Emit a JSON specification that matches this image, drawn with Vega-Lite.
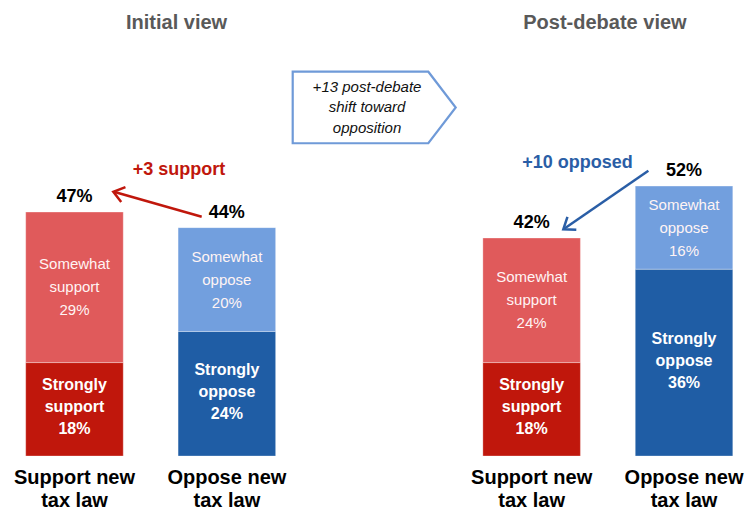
{
  "$schema": "https://vega.github.io/schema/vega-lite/v6.json",
  "width": 747,
  "height": 456,
  "autosize": {"type": "none"},
  "padding": {"left": 0, "top": 0, "right": 0, "bottom": 54},
  "background": "white",
  "config": {"view": {"stroke": null}, "font": "Liberation Sans"},
  "datasets": {
    "bars": [
      {"bar": "Initial|Support new|tax law", "seg": "Strongly support", "value": 18},
      {"bar": "Initial|Support new|tax law", "seg": "Somewhat support", "value": 29},
      {"bar": "Initial|Oppose new|tax law", "seg": "Strongly oppose", "value": 24},
      {"bar": "Initial|Oppose new|tax law", "seg": "Somewhat oppose", "value": 20},
      {"bar": "Post-debate|Support new|tax law", "seg": "Strongly support", "value": 18},
      {"bar": "Post-debate|Support new|tax law", "seg": "Somewhat support", "value": 24},
      {"bar": "Post-debate|Oppose new|tax law", "seg": "Strongly oppose", "value": 36},
      {"bar": "Post-debate|Oppose new|tax law", "seg": "Somewhat oppose", "value": 16}
    ]
  },
  "layer": [
    {
      "data": {"name": "bars"},
      "transform": [
        {"stack": "value", "groupby": ["bar"], "sort": [{"field": "seg", "order": "descending"}], "as": ["v0", "v1"]},
        {"calculate": "(datum.v0 + datum.v1) / 2", "as": "mid"},
        {"calculate": "replace(datum.seg, ' ', '|') + '|' + datum.value + '%'", "as": "lbl"}
      ],
      "encoding": {
        "x": {
          "field": "bar",
          "type": "nominal",
          "title": null,
          "scale": {
            "domain": ["Initial|Support new|tax law", "Initial|Oppose new|tax law", "gap", "Post-debate|Support new|tax law", "Post-debate|Oppose new|tax law"],
            "paddingInner": 0.36,
            "paddingOuter": 0.131,
            "align": 0.644
          },
          "axis": {
            "orient": "bottom",
            "ticks": false,
            "domain": false,
            "grid": false,
            "labelAngle": 0,
            "labelAlign": "center",
            "labelBaseline": "top",
            "labelPadding": 11,
            "labelFont": "Liberation Sans",
            "labelFontSize": 20,
            "labelFontWeight": "bold",
            "labelColor": "#000000",
            "labelLineHeight": 23.5,
            "labelLimit": 300,
            "labelExpr": "datum.value === 'gap' ? '' : slice(split(datum.value, '|'), 1)"
          }
        }
      },
      "layer": [
        {
          "mark": {"type": "bar", "stroke": "#ffffff", "strokeOpacity": 0.3, "strokeWidth": 1},
          "encoding": {
            "y": {"field": "v1", "type": "quantitative", "scale": {"domain": [0, 87.86], "nice": false}, "axis": null},
            "y2": {"field": "v0"},
            "color": {
              "field": "seg",
              "type": "nominal",
              "legend": null,
              "scale": {
                "domain": ["Strongly support", "Somewhat support", "Strongly oppose", "Somewhat oppose"],
                "range": ["#C0170C", "#E05A5B", "#1F5DA5", "#729FDE"]
              }
            }
          }
        },
        {
          "transform": [{"filter": "indexof(datum.seg, 'Somewhat') === 0"}],
          "mark": {"type": "text", "font": "Liberation Sans", "fontSize": 15, "color": "#fff4f4", "baseline": "middle", "lineBreak": "|", "lineHeight": 23, "dy": -23},
          "encoding": {
            "y": {"field": "mid", "type": "quantitative", "scale": {"domain": [0, 87.86], "nice": false}, "axis": null},
            "text": {"field": "lbl"}
          }
        },
        {
          "transform": [{"filter": "indexof(datum.seg, 'Strongly') === 0"}],
          "mark": {"type": "text", "font": "Liberation Sans", "fontSize": 16, "fontWeight": "bold", "color": "#ffffff", "baseline": "middle", "lineBreak": "|", "lineHeight": 22, "dy": -24},
          "encoding": {
            "y": {"field": "mid", "type": "quantitative", "scale": {"domain": [0, 87.86], "nice": false}, "axis": null},
            "text": {"field": "lbl"}
          }
        },
        {
          "transform": [
            {"aggregate": [{"op": "sum", "field": "value", "as": "total"}], "groupby": ["bar"]},
            {"calculate": "datum.total + '%'", "as": "tl"}
          ],
          "mark": {"type": "text", "font": "Liberation Sans", "fontSize": 18, "fontWeight": "bold", "color": "#000000", "baseline": "alphabetic", "dy": -10},
          "encoding": {
            "y": {"field": "total", "type": "quantitative", "scale": {"domain": [0, 87.86], "nice": false}, "axis": null},
            "text": {"field": "tl"}
          }
        }
      ]
    },
    {
      "encoding": {
        "x": {"type": "quantitative", "scale": {"domain": [-0.4886, 4.4133], "nice": false, "zero": false}, "axis": null}
      },
      "layer": [
        {
          "data": {"values": [{"t": "Initial view"}]},
          "mark": {"type": "text", "font": "Liberation Sans", "fontSize": 20, "fontWeight": "bold", "color": "#595959", "baseline": "alphabetic"},
          "encoding": {
            "x": {"datum": 0.67, "type": "quantitative", "scale": {"domain": [-0.4886, 4.4133], "nice": false, "zero": false}, "axis": null},
            "y": {"datum": 82.2, "type": "quantitative", "scale": {"domain": [0, 87.86], "nice": false}, "axis": null},
            "text": {"field": "t"}
          }
        },
        {
          "data": {"values": [{"t": "Post-debate view"}]},
          "mark": {"type": "text", "font": "Liberation Sans", "fontSize": 20, "fontWeight": "bold", "color": "#595959", "baseline": "alphabetic"},
          "encoding": {
            "x": {"datum": 3.481, "type": "quantitative", "scale": {"domain": [-0.4886, 4.4133], "nice": false, "zero": false}, "axis": null},
            "y": {"datum": 82.2, "type": "quantitative", "scale": {"domain": [0, 87.86], "nice": false}, "axis": null},
            "text": {"field": "t"}
          }
        },
        {
          "data": {"values": [{"t": "callout"}]},
          "mark": {"type": "point", "shape": "M-1,-0.439L0.664,-0.439L1,0L0.664,0.439L-1,0.439Z", "size": 26569, "filled": true, "fill": "#ffffff", "stroke": "#6F9AD8", "strokeWidth": 2.2, "opacity": 1},
          "encoding": {
            "x": {"datum": 1.967, "type": "quantitative", "scale": {"domain": [-0.4886, 4.4133], "nice": false, "zero": false}, "axis": null},
            "y": {"datum": 67.15, "type": "quantitative", "scale": {"domain": [0, 87.86], "nice": false}, "axis": null}
          }
        },
        {
          "data": {"values": [{"t": "+13 post-debate|shift toward|opposition"}]},
          "mark": {"type": "text", "font": "Liberation Sans", "fontSize": 15, "fontStyle": "italic", "color": "#111111", "baseline": "middle", "lineBreak": "|", "lineHeight": 20.5, "dy": -20.5},
          "encoding": {
            "x": {"datum": 1.92, "type": "quantitative", "scale": {"domain": [-0.4886, 4.4133], "nice": false, "zero": false}, "axis": null},
            "y": {"datum": 67.15, "type": "quantitative", "scale": {"domain": [0, 87.86], "nice": false}, "axis": null},
            "text": {"field": "t"}
          }
        },
        {
          "data": {"values": [{"t": "+3 support"}]},
          "mark": {"type": "text", "font": "Liberation Sans", "fontSize": 18, "fontWeight": "bold", "color": "#C0170C", "baseline": "alphabetic"},
          "encoding": {
            "x": {"datum": 0.686, "type": "quantitative", "scale": {"domain": [-0.4886, 4.4133], "nice": false, "zero": false}, "axis": null},
            "y": {"datum": 54.14, "type": "quantitative", "scale": {"domain": [0, 87.86], "nice": false}, "axis": null},
            "text": {"field": "t"}
          }
        },
        {
          "data": {"values": [{"t": "+10 opposed"}]},
          "mark": {"type": "text", "font": "Liberation Sans", "fontSize": 18, "fontWeight": "bold", "color": "#2A5EA6", "baseline": "alphabetic"},
          "encoding": {
            "x": {"datum": 3.301, "type": "quantitative", "scale": {"domain": [-0.4886, 4.4133], "nice": false, "zero": false}, "axis": null},
            "y": {"datum": 55.43, "type": "quantitative", "scale": {"domain": [0, 87.86], "nice": false}, "axis": null},
            "text": {"field": "t"}
          }
        },
        {
          "data": {"values": [{"t": "+3 support arrow"}]},
          "mark": {"type": "rule", "color": "#C0170C", "strokeWidth": 2.5},
          "encoding": {
            "x": {"datum": 0.835, "type": "quantitative", "scale": {"domain": [-0.4886, 4.4133], "nice": false, "zero": false}, "axis": null},
            "x2": {"datum": 0.258},
            "y": {"datum": 46.11, "type": "quantitative", "scale": {"domain": [0, 87.86], "nice": false}, "axis": null},
            "y2": {"datum": 50.9}
          }
        },
        {
          "data": {"values": [{"t": "+3 support arrowhead"}]},
          "mark": {"type": "point", "shape": "M-1,-0.75L0,0L-1,0.75", "size": 433, "filled": false, "stroke": "#C0170C", "strokeWidth": 2.5, "opacity": 1, "angle": 195.8},
          "encoding": {
            "x": {"datum": 0.255, "type": "quantitative", "scale": {"domain": [-0.4886, 4.4133], "nice": false, "zero": false}, "axis": null},
            "y": {"datum": 50.92, "type": "quantitative", "scale": {"domain": [0, 87.86], "nice": false}, "axis": null}
          }
        },
        {
          "data": {"values": [{"t": "+10 opposed arrow"}]},
          "mark": {"type": "rule", "color": "#2A5EA6", "strokeWidth": 2.5},
          "encoding": {
            "x": {"datum": 3.766, "type": "quantitative", "scale": {"domain": [-0.4886, 4.4133], "nice": false, "zero": false}, "axis": null},
            "x2": {"datum": 3.211},
            "y": {"datum": 54.97, "type": "quantitative", "scale": {"domain": [0, 87.86], "nice": false}, "axis": null},
            "y2": {"datum": 43.72}
          }
        },
        {
          "data": {"values": [{"t": "+10 opposed arrowhead"}]},
          "mark": {"type": "point", "shape": "M-1,-0.75L0,0L-1,0.75", "size": 433, "filled": false, "stroke": "#2A5EA6", "strokeWidth": 2.5, "opacity": 1, "angle": 145.4},
          "encoding": {
            "x": {"datum": 3.208, "type": "quantitative", "scale": {"domain": [-0.4886, 4.4133], "nice": false, "zero": false}, "axis": null},
            "y": {"datum": 43.68, "type": "quantitative", "scale": {"domain": [0, 87.86], "nice": false}, "axis": null}
          }
        }
      ]
    }
  ],
  "resolve": {"scale": {"x": "independent"}, "axis": {"x": "independent"}}
}
